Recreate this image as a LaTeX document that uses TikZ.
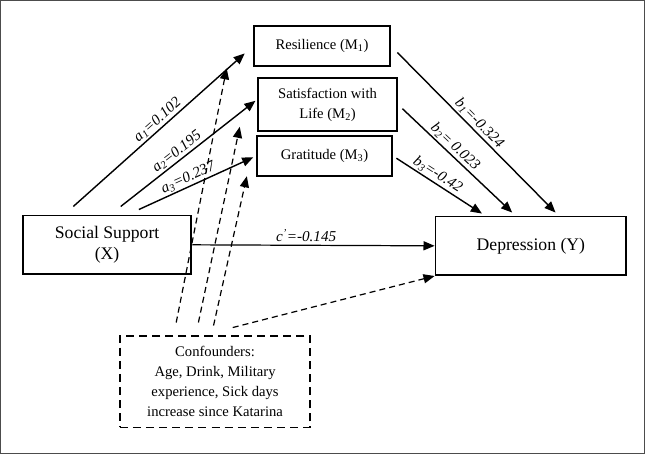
\documentclass[tikz,border=0pt]{standalone}
\usepackage{fontspec}
\setmainfont{Liberation Serif}
\usetikzlibrary{arrows.meta}

\tikzset{
  box/.style={draw, line width=1.8pt, align=center, inner sep=0pt},
  bigtext/.style={font=\fontsize{17.5}{21}\selectfont},
  medtext/.style={font=\fontsize{14.5}{20}\selectfont},
  path/.style={line width=1.4pt, -{Triangle[length=11pt,width=9pt]}},
  confpath/.style={line width=1.2pt, dash pattern=on 6pt off 4pt, -{Triangle[length=11pt,width=9pt]}},
  coef/.style={font=\fontsize{15}{15}\selectfont\itshape, sloped, above, inner sep=1.5pt},
}

\begin{document}
\begin{tikzpicture}[x=1pt, y=-1pt]
  % frame
  \draw[line width=1.3pt, black!70] (3,3) rectangle (641,452);

  % variables
  \node[box, bigtext, minimum width=167pt, minimum height=58pt] (ss) at (108.5,245) {Social Support\\(X)};
  \node[box, bigtext, minimum width=189pt, minimum height=58pt] (dep) at (528.5,246) {Depression (Y)};
  \node[box, medtext, minimum width=135pt, minimum height=40pt] (res) at (321.5,48) {Resilience (M\textsubscript{1})};
  \node[box, medtext, minimum width=138pt, minimum height=52pt] (sat) at (327,106) {Satisfaction with\\Life (M\textsubscript{2})};
  \node[box, medtext, minimum width=134pt, minimum height=40pt] (grat) at (324,157) {Gratitude (M\textsubscript{3})};
  \node[box, medtext, dash pattern=on 8pt off 5pt, minimum width=189pt, minimum height=91pt] (conf) at (215.5,380.5)
    {Confounders:\\Age, Drink, Military\\experience, Sick days\\increase since Katarina};

  % free ends
  \coordinate (ssA1) at (75,207);
  \coordinate (ssA2) at (122,207);
  \coordinate (ssA3) at (140,210);
  \coordinate (depB1) at (553,213);
  \coordinate (depB2) at (510,213);
  \coordinate (depB3) at (480,214);
  \coordinate (confR) at (177,322);
  \coordinate (confS) at (199,322);
  \coordinate (confG) at (214,325);
  \coordinate (confD) at (233,327);
  \coordinate (resC) at (227,70);
  \coordinate (satC) at (240,128);
  \coordinate (gratC) at (247,177);

  % a paths
  \draw[path, shorten >=11pt] (ssA1) -- node[coef] {a\textsubscript{1}=0.102} (res.west);
  \draw[path, shorten >=2pt] (ssA2) -- node[coef, pos=0.45] {a\textsubscript{2}=0.195} ([yshift=5pt]sat.west);
  \draw[path, shorten >=3pt] (ssA3) -- node[coef, pos=0.45] {a\textsubscript{3}=0.237} (grat.west);

  % b paths
  \draw[path, shorten <=9pt] (res.east) -- node[coef] {b\textsubscript{1}=-0.324} (depB1);
  \draw[path, shorten <=6pt] (sat.east) -- node[coef, pos=0.45] {b\textsubscript{2}= 0.023} (depB2);
  \draw[path, shorten <=4pt] (grat.east) -- node[coef, pos=0.45] {b\textsubscript{3}=-0.42} (depB3);

  % direct path
  \draw[path, line width=1.2pt] (ss.east) -- node[coef, pos=0.47, inner sep=3pt] {c\textsuperscript{'}=-0.145} (dep.west);

  % confounders
  \draw[confpath] (confR) -- (resC);
  \draw[confpath] (confS) -- (satC);
  \draw[confpath] (confG) -- (gratC);
  \draw[confpath] (confD) -- (dep.south west);
\end{tikzpicture}
\end{document}
